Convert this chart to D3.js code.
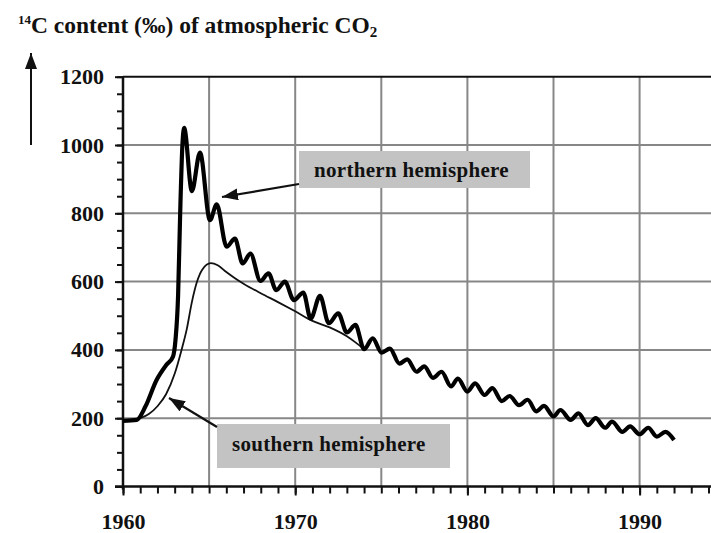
<!DOCTYPE html>
<html>
<head>
<meta charset="utf-8">
<script src="https://cdn.jsdelivr.net/npm/d3@7"></script>
<style>
  body { margin: 0; background: #fff; }
  svg { display: block; }
  text { font-family: "Liberation Serif", "Times New Roman", serif; font-weight: bold; fill: #111; }
</style>
</head>
<body>
<div id="chart"></div>
<script>
// -- DATA -- //
const northYears = [1960.0, 1960.8, 1961.3, 1961.95, 1962.5, 1962.9, 1963.05, 1963.2, 1963.32, 1963.45, 1963.55,
  1964.0, 1964.47, 1965.05, 1965.44, 1966.02, 1966.5, 1966.95, 1967.4, 1967.98, 1968.45, 1968.9, 1969.4,
  1969.92, 1970.47, 1970.9, 1971.44, 1971.95, 1972.5, 1973.0, 1973.5, 1974.0, 1974.5, 1975.02, 1975.5,
  1976.05, 1976.5, 1977.05, 1977.5, 1978.0, 1978.5, 1979.05, 1979.45, 1980.0, 1980.45, 1981.0, 1981.45,
  1982.0, 1982.45, 1983.0, 1983.5, 1984.0, 1984.45, 1985.0, 1985.4, 1986.0, 1986.45, 1987.0, 1987.45,
  1988.0, 1988.4, 1989.0, 1989.45, 1990.0, 1990.5, 1991.0, 1991.5, 1992.0];
const northValues = [192, 195, 234, 312, 355, 380, 430, 560, 800, 1000, 1050,
  865, 978, 780, 826, 702, 726, 653, 682, 602, 624, 575, 600,
  546, 568, 492, 558, 478, 507, 451, 473, 402, 434, 392, 404,
  360, 372, 336, 352, 318, 336, 293, 316, 278, 302, 268, 288,
  250, 265, 238, 254, 220, 236, 205, 224, 195, 214, 180, 200,
  172, 190, 160, 176, 153, 172, 146, 160, 136];

const southYears = [1960.0, 1961.0, 1961.5, 1962.0, 1962.5, 1963.0, 1963.4, 1963.7, 1964.0, 1964.3, 1964.6,
  1965.1, 1965.5, 1966.0, 1966.5, 1967.0, 1968.0, 1969.0, 1970.0, 1971.0, 1972.0, 1973.0, 1973.5, 1974.0];
const southValues = [192, 200, 212, 235, 270, 330, 400, 460, 540, 600, 635,
  654, 648, 628, 610, 594, 566, 540, 513, 485, 466, 440, 422, 402];

const yMajorTicks = [0, 200, 400, 600, 800, 1000, 1200];
const xMajorTicks = [1960, 1970, 1980, 1990];
const xGridYears = [1965, 1970, 1975, 1980, 1985, 1990];
const yGridValues = [200, 400, 600, 800, 1000];

// -- SETUP -- //
const width = 711, height = 533;
const svg = d3.select("#chart").append("svg")
  .attr("width", width)
  .attr("height", height);

const x = d3.scaleLinear().domain([1960, 1995]).range([123, 725.7]);
const y = d3.scaleLinear().domain([0, 1200]).range([486.5, 76.7]);

// arrowhead marker
svg.append("defs").append("marker")
  .attr("id", "head")
  .attr("viewBox", "0 0 16 12")
  .attr("refX", 16).attr("refY", 6)
  .attr("markerWidth", 16).attr("markerHeight", 12)
  .attr("markerUnits", "userSpaceOnUse")
  .attr("orient", "auto")
  .append("path").attr("d", "M0,0 L16,6 L0,12 Z").attr("fill", "#111");

// grid lines
svg.append("g").selectAll("line").data(yGridValues).join("line")
  .attr("x1", x(1960)).attr("x2", width)
  .attr("y1", d => y(d)).attr("y2", d => y(d))
  .attr("stroke", "#878787").attr("stroke-width", 2);

svg.append("g").selectAll("line").data(xGridYears).join("line")
  .attr("x1", d => x(d)).attr("x2", d => x(d))
  .attr("y1", y(0)).attr("y2", y(1200))
  .attr("stroke", "#878787").attr("stroke-width", 2);

// top frame line
svg.append("line")
  .attr("x1", x(1960)).attr("x2", width)
  .attr("y1", y(1200)).attr("y2", y(1200))
  .attr("stroke", "#111").attr("stroke-width", 2);

// y axis: minor ticks then major ticks with labels
svg.append("g")
  .attr("transform", `translate(${x(1960)},0)`)
  .call(d3.axisLeft(y).tickValues(d3.range(0, 1201, 50)).tickSize(6).tickFormat(""))
  .call(g => g.select(".domain").remove())
  .call(g => g.selectAll("line").attr("stroke", "#111").attr("stroke-width", 2));

const yAxis = svg.append("g")
  .attr("transform", `translate(${x(1960)},0)`)
  .call(d3.axisLeft(y).tickValues(yMajorTicks).tickSize(8).tickPadding(11).tickFormat(d3.format("d")))
  .call(g => g.select(".domain").attr("stroke", "#111").attr("stroke-width", 2.5).attr("d", `M0,${y(0) + 3}V${y(1200)}`));
yAxis.selectAll("line").attr("stroke", "#111").attr("stroke-width", 2);
yAxis.selectAll("text").attr("font-size", 22).attr("fill", "#111")
  .attr("font-family", "Liberation Serif, serif").attr("font-weight", "bold");

// x axis
svg.append("g")
  .attr("transform", `translate(0,${y(0)})`)
  .call(d3.axisBottom(x).tickValues(d3.range(1960, 1996, 1)).tickSize(7).tickFormat(""))
  .call(g => g.select(".domain").remove())
  .call(g => g.selectAll("line").attr("stroke", "#111").attr("stroke-width", 2));

const xAxis = svg.append("g")
  .attr("transform", `translate(0,${y(0)})`)
  .call(d3.axisBottom(x).tickValues(xMajorTicks).tickSize(9).tickPadding(18).tickFormat(d3.format("d")))
  .call(g => g.select(".domain").attr("stroke", "#111").attr("stroke-width", 2.5).attr("d", `M${x(1960) - 8},0H${width}`));
xAxis.selectAll("line").attr("stroke", "#111").attr("stroke-width", 2);
xAxis.selectAll("text").attr("font-size", 22).attr("fill", "#111")
  .attr("font-family", "Liberation Serif, serif").attr("font-weight", "bold");

// curves
const line = d3.line()
  .x(d => x(d[0]))
  .y(d => y(d[1]))
  .curve(d3.curveMonotoneX);

svg.append("path")
  .datum(d3.zip(southYears, southValues))
  .attr("d", line)
  .attr("fill", "none").attr("stroke", "#111").attr("stroke-width", 1.8);

svg.append("path")
  .datum(d3.zip(northYears, northValues))
  .attr("d", line)
  .attr("fill", "none").attr("stroke", "#000").attr("stroke-width", 4.2)
  .attr("stroke-linejoin", "round");

// label boxes
function labelBox(x0, y0, w, h, txt, tx, ty) {
  svg.append("rect")
    .attr("x", x0).attr("y", y0).attr("width", w).attr("height", h)
    .attr("fill", "#c3c3c3");
  svg.append("text")
    .attr("x", tx).attr("y", ty)
    .attr("font-size", 21).attr("letter-spacing", 0.3)
    .text(txt);
}
labelBox(299, 151, 231, 37, "northern hemisphere", 314, 177);
labelBox(217, 424, 233, 44, "southern hemisphere", 232, 451);

// annotation arrows
svg.append("line")
  .attr("x1", 299).attr("y1", 184).attr("x2", 222).attr("y2", 197)
  .attr("stroke", "#111").attr("stroke-width", 2.2).attr("marker-end", "url(#head)");
svg.append("line")
  .attr("x1", 217).attr("y1", 427).attr("x2", 169).attr("y2", 398)
  .attr("stroke", "#111").attr("stroke-width", 2.2).attr("marker-end", "url(#head)");

// vertical arrow left of the y axis
svg.append("line")
  .attr("x1", 31).attr("y1", 145).attr("x2", 31).attr("y2", 53)
  .attr("stroke", "#111").attr("stroke-width", 2).attr("marker-end", "url(#head)");

// title
const title = svg.append("text").attr("x", 18).attr("y", 33).attr("font-size", 23.5);
title.append("tspan").attr("font-size", 13).attr("dy", -9).text("14");
title.append("tspan").attr("dy", 9).text("C content (‰) of atmospheric CO");
title.append("tspan").attr("font-size", 15).attr("dy", 4).text("2");
</script>
</body>
</html>
